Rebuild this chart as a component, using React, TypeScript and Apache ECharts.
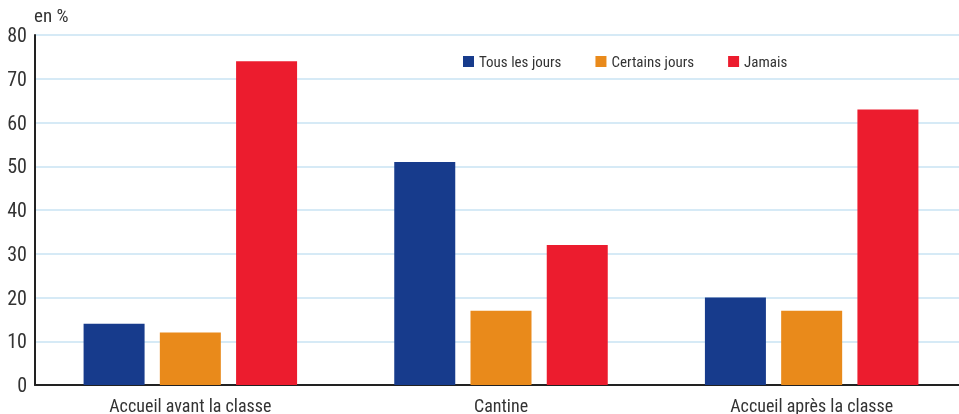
import React, { useEffect, useRef } from "react";
import * as echarts from "echarts";

const categories = ["Accueil avant la classe", "Cantine", "Accueil après la classe"];
const seriesNames = ["Tous les jours", "Certains jours", "Jamais"];
const tousLesJours = [14, 51, 20];
const certainsJours = [12, 17, 17];
const jamais = [74, 32, 63];
const colors = ["#173b8c", "#e98a1b", "#ec1c2e"];

const FONT = "'Liberation Sans Narrow', 'Roboto Condensed', 'Liberation Sans', Arial, sans-serif";

export default function App() {
  const ref = useRef<HTMLDivElement>(null);
  useEffect(() => {
    if (!ref.current) return;
    const chart = echarts.init(ref.current, undefined, { renderer: "svg" });
    const values = [tousLesJours, certainsJours, jamais];
    chart.setOption({
      animation: false,
      textStyle: { fontFamily: FONT },
      grid: { left: 35, right: 1, top: 35, bottom: 29, containLabel: false },
      legend: {
        top: 49,
        left: 458,
        itemWidth: 11,
        itemHeight: 11,
        itemGap: 34,
        icon: "rect",
        textStyle: { fontFamily: FONT, fontSize: 15, color: "#333" },
        data: seriesNames,
      },
      xAxis: {
        type: "category",
        data: categories,
        axisLine: { show: true, lineStyle: { color: "#222", width: 2 } },
        axisTick: { show: false },
        axisLabel: { fontFamily: FONT, fontSize: 18, color: "#333", margin: 11 },
      },
      yAxis: {
        type: "value",
        min: 0,
        max: 80,
        interval: 10,
        name: "en %",
        nameLocation: "end",
        nameGap: 10,
        nameTextStyle: { fontFamily: FONT, fontSize: 19, color: "#333", align: "left", padding: [0, 0, 0, -1] },
        axisLine: { show: true, lineStyle: { color: "#222", width: 2 } },
        axisTick: { show: false },
        axisLabel: { fontFamily: FONT, fontSize: 20, color: "#333", margin: 8 },
        splitLine: { show: true, lineStyle: { color: "#c9e3f3", width: 1.5 } },
      },
      series: seriesNames.map((n, i) => ({
        name: n,
        type: "bar",
        data: values[i],
        barWidth: 61,
        barGap: "25%",
        itemStyle: { color: colors[i] },
      })),
    });
    return () => chart.dispose();
  }, []);
  return (
    <div style={{ position: "fixed", left: 0, top: 0, width: 959, height: 414, overflow: "hidden" }}>
      <div ref={ref} style={{ width: 968, height: 414 }} />
    </div>
  );
}
